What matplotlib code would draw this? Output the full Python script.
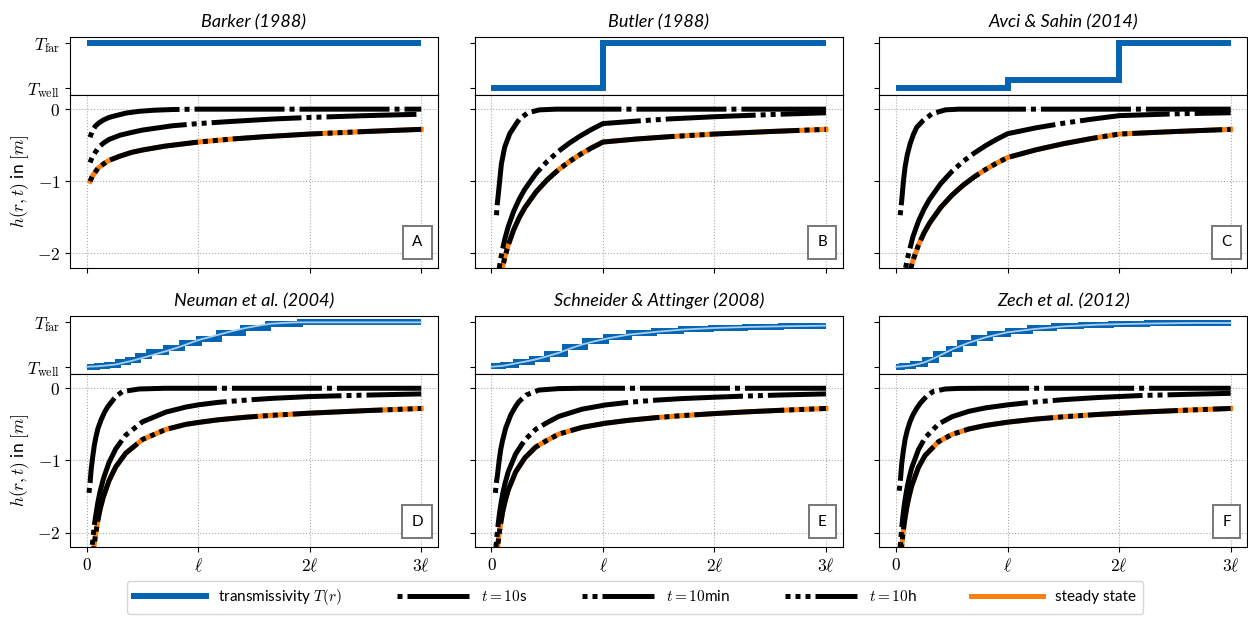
import matplotlib.pyplot as plt
from matplotlib.lines import Line2D

plt.rcParams['font.family'] = ['Lato', 'DejaVu Sans']
plt.rcParams['mathtext.fontset'] = 'cm'

# ---------------- texts ----------------
titles = ['Barker (1988)', 'Butler (1988)', 'Avci & Sahin (2014)',
          'Neuman et al. (2004)', 'Schneider & Attinger (2008)', 'Zech et al. (2012)']
letters = ['A', 'B', 'C', 'D', 'E', 'F']
x_ticks = [0, 1, 2, 3]
x_ticklabels = ['$0$', r'$\ell$', r'$2\ell$', r'$3\ell$']
h_ticks = [-2, -1, 0]
h_ticklabels = ['$-2$', '$-1$', '$0$']
T_ticks = [0, 1]
T_ticklabels = [r'$T_\mathrm{well}$', r'$T_\mathrm{far}$']

# ---------------- transmissivity (0 = T_well, 1 = T_far) ----------------
A_T_edges = [0, 3]
A_T_levels = [1]
B_T_edges = [0, 1, 3]
B_T_levels = [0, 1]
C_T_edges = [0, 1, 2, 3]
C_T_levels = [0, 0.18, 1]
D_T_edges = [0, 0.09, 0.18, 0.28, 0.37, 0.46, 0.56, 0.71, 0.85, 1.01, 1.19, 1.40, 1.63, 1.91, 3.0]
D_T_levels = [0, 0.02, 0.05, 0.1, 0.16, 0.24, 0.33, 0.43, 0.54, 0.63, 0.75, 0.87, 0.96, 1.0]
D_T_x = [0, 0.1, 0.26, 0.4, 0.5, 0.6, 0.71, 0.8, 0.89, 1.0, 1.18, 1.3, 1.42, 1.55, 1.66, 1.8, 1.9, 2.2, 3.0]
D_T_val = [0, 0.01, 0.05, 0.13, 0.2, 0.27, 0.35, 0.42, 0.5, 0.6, 0.72, 0.8, 0.87, 0.93, 0.97, 0.99, 1.0, 1.0, 1.0]
E_T_edges = [0, 0.1, 0.22, 0.36, 0.5, 0.66, 0.84, 1.03, 1.23, 1.46, 1.7, 1.97, 2.27, 2.6, 3.0]
E_T_levels = [0.01, 0.05, 0.105, 0.185, 0.29, 0.44, 0.58, 0.68, 0.755, 0.81, 0.855, 0.882, 0.903, 0.918]
E_T_x = [0, 0.1, 0.217, 0.3, 0.396, 0.5, 0.604, 0.7, 0.812, 0.92, 1.02, 1.23, 1.47, 1.71, 2.0, 2.3, 2.6, 3.0]
E_T_val = [0, 0.02, 0.075, 0.115, 0.164, 0.235, 0.313, 0.405, 0.5, 0.57, 0.627, 0.724, 0.784, 0.836, 0.873, 0.896, 0.91, 0.925]
F_T_edges = [0, 0.05, 0.155, 0.26, 0.36, 0.47, 0.57, 0.7, 0.84, 1.0, 1.2, 1.42, 1.66, 1.93, 2.25, 2.6, 3.0]
F_T_levels = [0, 0.015, 0.065, 0.16, 0.28, 0.41, 0.53, 0.64, 0.73, 0.81, 0.865, 0.915, 0.946, 0.965, 0.98, 0.985]
F_T_x = [0, 0.07, 0.14, 0.2, 0.26, 0.32, 0.38, 0.44, 0.5, 0.65, 0.8, 0.9, 1.0, 1.24, 1.51, 1.81, 2.19, 2.64, 3.0]
F_T_val = [0, 0.01, 0.03, 0.06, 0.104, 0.17, 0.24, 0.315, 0.39, 0.54, 0.66, 0.72, 0.776, 0.85, 0.91, 0.948, 0.97, 0.985, 0.985]

# ---------------- head h(r,t) ----------------
A_x_10s = [0.03, 0.05, 0.08, 0.11, 0.15, 0.2, 0.26, 0.35, 0.47, 0.6, 0.77, 1.0, 2.0, 3.0]
A_h_10s = [-0.39, -0.30, -0.23, -0.19, -0.15, -0.115, -0.09, -0.055, -0.03, -0.015, -0.005, 0, 0, 0]
A_x_10min = [0.03, 0.05, 0.08, 0.11, 0.15, 0.2, 0.3, 0.41, 0.5, 0.77, 1.0, 1.3, 1.69, 2.0, 2.5, 3.0]
A_h_10min = [-0.74, -0.66, -0.59, -0.525, -0.47, -0.42, -0.36, -0.32, -0.29, -0.23, -0.2, -0.17, -0.135, -0.115, -0.09, -0.07]
A_x_ss = [0.03, 0.05, 0.1, 0.15, 0.2, 0.3, 0.4, 0.5, 0.7, 1.0, 1.3, 1.6, 2.0, 2.5, 3.0]
A_h_ss = [-1.0, -0.93, -0.82, -0.76, -0.71, -0.65, -0.60, -0.566, -0.513, -0.456, -0.414, -0.381, -0.345, -0.31, -0.28]

B_x_10s = [0.045, 0.05, 0.068, 0.089, 0.119, 0.164, 0.223, 0.253, 0.327, 0.43, 0.58, 1.0, 2.0, 3.0]
B_h_10s = [-1.47, -1.35, -1.08, -0.76, -0.525, -0.34, -0.2, -0.134, -0.05, -0.01, 0, 0, 0, 0]
B_x_10min = [0.07, 0.08, 0.1, 0.12, 0.15, 0.2, 0.25, 0.3, 0.4, 0.5, 0.6, 0.7, 0.8, 0.9, 1.0, 1.3, 1.6, 2.0, 2.5, 3.0]
B_h_10min = [-2.205, -2.10, -1.936, -1.80, -1.63, -1.414, -1.245, -1.108, -0.891, -0.723, -0.585, -0.469, -0.368,
             -0.279, -0.2, -0.165, -0.135, -0.105, -0.075, -0.05]
B_x_ss = [0.09, 0.1, 0.12, 0.15, 0.2, 0.25, 0.3, 0.4, 0.5, 0.6, 0.7, 0.8, 0.9, 1.0, 1.3, 1.6, 2.0, 2.5, 3.0]
B_h_ss = [-2.27, -2.19, -2.055, -1.886, -1.67, -1.5, -1.364, -1.147, -0.979, -0.841, -0.725, -0.624, -0.535,
          -0.456, -0.414, -0.381, -0.345, -0.31, -0.28]

C_x_10s = [0.036, 0.05, 0.065, 0.08, 0.1, 0.125, 0.155, 0.185, 0.24, 0.32, 0.44, 0.56, 1.0, 2.0, 3.0]
C_h_10s = [-1.47, -1.26, -1.0, -0.8, -0.63, -0.48, -0.35, -0.25, -0.16, -0.065, -0.01, 0, 0, 0, 0]
C_x_10min = [0.085, 0.1, 0.15, 0.2, 0.25, 0.3, 0.4, 0.5, 0.6, 0.7, 0.8, 0.9, 1.0, 1.25, 1.5, 1.75, 2.0, 2.5, 3.0]
C_h_10min = [-2.2, -2.076, -1.77, -1.553, -1.385, -1.248, -1.031, -0.863, -0.725, -0.609, -0.508, -0.419,
             -0.34, -0.26, -0.195, -0.14, -0.09, -0.065, -0.05]
C_x_ss = [0.13, 0.15, 0.2, 0.25, 0.3, 0.4, 0.5, 0.6, 0.7, 0.8, 0.9, 1.0, 1.25, 1.5, 1.75, 2.0, 2.5, 3.0]
C_h_ss = [-2.21, -2.10, -1.883, -1.715, -1.578, -1.361, -1.193, -1.055, -0.939, -0.838, -0.749, -0.67,
          -0.565, -0.479, -0.407, -0.345, -0.31, -0.28]

D_x_10s = [0.02, 0.03, 0.04, 0.054, 0.068, 0.083, 0.1, 0.128, 0.16, 0.19, 0.26, 0.32, 0.47, 0.7, 1.0, 2.0, 3.0]
D_h_10s = [-1.45, -1.31, -1.12, -0.945, -0.79, -0.67, -0.56, -0.44, -0.33, -0.253, -0.115, -0.046, -0.01, 0, 0, 0, 0]
D_x_10min = [0.05, 0.06, 0.07, 0.08, 0.1, 0.12, 0.15, 0.2, 0.26, 0.35, 0.5, 0.71, 0.89, 1.0, 1.18, 1.42, 1.66, 2.0, 2.5, 3.0]
D_h_10min = [-2.17, -2.01, -1.88, -1.77, -1.58, -1.43, -1.25, -1.03, -0.84, -0.65, -0.465, -0.33, -0.26,
             -0.23, -0.195, -0.165, -0.14, -0.115, -0.095, -0.078]
D_x_ss = [0.06, 0.07, 0.08, 0.1, 0.12, 0.15, 0.2, 0.26, 0.35, 0.5, 0.71, 0.89, 1.0, 1.18, 1.42, 1.66, 2.0, 2.5, 3.0]
D_h_ss = [-2.26, -2.13, -2.02, -1.83, -1.675, -1.50, -1.28, -1.09, -0.90, -0.71, -0.57, -0.50, -0.474,
          -0.437, -0.402, -0.375, -0.345, -0.31, -0.28]

E_x_10s = [0.035, 0.045, 0.054, 0.07, 0.083, 0.1, 0.128, 0.173, 0.217, 0.247, 0.31, 0.425, 0.6, 0.8, 1.0, 2.0, 3.0]
E_h_10s = [-1.45, -1.3, -1.2, -0.99, -0.85, -0.72, -0.55, -0.37, -0.25, -0.185, -0.095, -0.025, -0.005, 0, 0, 0, 0]
E_x_10min = [0.04, 0.05, 0.06, 0.07, 0.08, 0.1, 0.12, 0.15, 0.217, 0.3, 0.396, 0.5, 0.604, 0.812, 1.02,
             1.23, 1.47, 1.71, 2.0, 2.3, 2.6, 3.0]
E_h_10min = [-2.2, -2.04, -1.885, -1.757, -1.65, -1.468, -1.33, -1.16, -0.91, -0.715, -0.57, -0.475, -0.39,
             -0.29, -0.232, -0.195, -0.165, -0.143, -0.124, -0.107, -0.093, -0.078]
E_x_ss = [0.05, 0.06, 0.07, 0.08, 0.1, 0.12, 0.15, 0.217, 0.3, 0.396, 0.5, 0.604, 0.812, 1.02, 1.23,
          1.47, 1.71, 2.0, 2.3, 2.6, 3.0]
E_h_ss = [-2.29, -2.135, -2.007, -1.90, -1.718, -1.58, -1.411, -1.16, -0.964, -0.816, -0.72, -0.635, -0.542,
          -0.485, -0.444, -0.408, -0.379, -0.351, -0.326, -0.305, -0.28]

F_x_10s = [0.027, 0.036, 0.05, 0.065, 0.08, 0.1, 0.125, 0.15, 0.185, 0.22, 0.27, 0.33, 0.44, 0.56, 0.8, 1.0, 2.0, 3.0]
F_h_10s = [-1.42, -1.31, -1.04, -0.86, -0.71, -0.58, -0.46, -0.37, -0.276, -0.2, -0.115, -0.046, -0.01, -0.002, 0, 0, 0, 0]
F_x_10min = [0.035, 0.04, 0.05, 0.06, 0.07, 0.08, 0.1, 0.12, 0.14, 0.2, 0.26, 0.38, 0.5, 0.65, 0.8, 1.0,
             1.24, 1.51, 1.81, 2.19, 2.64, 3.0]
F_h_10min = [-2.2, -2.12, -1.93, -1.78, -1.65, -1.54, -1.36, -1.22, -1.10, -0.85, -0.685, -0.495, -0.395,
             -0.32, -0.272, -0.23, -0.19, -0.157, -0.128, -0.101, -0.083, -0.07]
F_x_ss = [0.04, 0.05, 0.06, 0.07, 0.08, 0.1, 0.12, 0.14, 0.2, 0.26, 0.38, 0.5, 0.65, 0.8, 1.0, 1.24, 1.51,
          1.81, 2.19, 2.64, 3.0]
F_h_ss = [-2.37, -2.18, -2.03, -1.90, -1.79, -1.61, -1.47, -1.35, -1.095, -0.93, -0.74, -0.64, -0.565,
          -0.516, -0.47, -0.429, -0.394, -0.363, -0.331, -0.301, -0.28]

panels = [
    (A_T_edges, A_T_levels, None, None, A_x_10s, A_h_10s, A_x_10min, A_h_10min, A_x_ss, A_h_ss),
    (B_T_edges, B_T_levels, None, None, B_x_10s, B_h_10s, B_x_10min, B_h_10min, B_x_ss, B_h_ss),
    (C_T_edges, C_T_levels, None, None, C_x_10s, C_h_10s, C_x_10min, C_h_10min, C_x_ss, C_h_ss),
    (D_T_edges, D_T_levels, D_T_x, D_T_val, D_x_10s, D_h_10s, D_x_10min, D_h_10min, D_x_ss, D_h_ss),
    (E_T_edges, E_T_levels, E_T_x, E_T_val, E_x_10s, E_h_10s, E_x_10min, E_h_10min, E_x_ss, E_h_ss),
    (F_T_edges, F_T_levels, F_T_x, F_T_val, F_x_10s, F_h_10s, F_x_10min, F_h_10min, F_x_ss, F_h_ss),
]

# ---------------- styles ----------------
blue = '#0464b2'
light_blue = '#a9cff0'
orange = '#ff7f0e'
lw = 3.6
ls_10s = (0, (1, 1, 18, 1))
ls_10min = (0, (1, 1, 1, 1, 18, 1))
ls_10h = (0, (1, 1, 1, 1, 1, 1, 18, 1))

fig = plt.figure(figsize=(12.48, 6.22), dpi=100)
outer = fig.add_gridspec(2, 3, left=0.0561, right=0.9995, top=0.9405, bottom=0.1206,
                         wspace=0.1, hspace=0.209)

for i, p in enumerate(panels):
    T_edges, T_levels, T_x, T_val, x10s, h10s, x10m, h10m, xss, hss = p
    row, col = divmod(i, 3)
    inner = outer[row, col].subgridspec(2, 1, height_ratios=[1, 3], hspace=0)
    axT = fig.add_subplot(inner[0])
    axh = fig.add_subplot(inner[1])

    # transmissivity
    axT.stairs(T_levels, T_edges, baseline=None, color=blue, lw=4.3)
    if T_x is not None:
        axT.plot(T_x, T_val, color=light_blue, lw=1.3)
    axT.set_xlim(-0.15, 3.15)
    axT.set_ylim(-0.16, 1.14)
    axT.set_yticks(T_ticks)
    axT.set_yticklabels(T_ticklabels if col == 0 else [], fontsize=12.5)
    axT.tick_params(bottom=False, labelbottom=False)
    axT.set_title(titles[i], fontsize=13, style='italic', pad=7)

    # head
    axh.plot(xss, hss, color=orange, lw=lw, zorder=2)
    axh.plot(x10s, h10s, color='black', lw=lw, ls=ls_10s, zorder=3)
    axh.plot(x10m, h10m, color='black', lw=lw, ls=ls_10min, zorder=3)
    axh.plot(xss, hss, color='black', lw=lw, ls=ls_10h, zorder=3)
    axh.set_xlim(-0.15, 3.15)
    axh.set_ylim(-2.2, 0.2)
    axh.set_xticks(x_ticks)
    axh.set_xticklabels(x_ticklabels if row == 1 else [], fontsize=12.5)
    axh.set_yticks(h_ticks)
    axh.set_yticklabels(h_ticklabels if col == 0 else [], fontsize=12.5)
    axh.grid(True, ls=':', color='#aaaaaa', lw=0.8)
    if col == 0:
        axh.set_ylabel('$h(r,t)$ in $[m]$', fontsize=12.5)
    axh.text(0.944, 0.147, letters[i], transform=axh.transAxes, ha='center', va='center',
             fontsize=11, bbox=dict(boxstyle='square,pad=0.6', fc='white', ec='#777777', lw=1.4),
             zorder=5)

handles = [
    Line2D([], [], color=blue, lw=4.3),
    Line2D([], [], color='black', lw=lw, ls=ls_10s),
    Line2D([], [], color='black', lw=lw, ls=ls_10min),
    Line2D([], [], color='black', lw=lw, ls=ls_10h),
    Line2D([], [], color=orange, lw=lw),
]
labels = ['transmissivity $T(r)$', '$t = 10$s', '$t = 10$min', '$t = 10$h', 'steady state']
fig.legend(handles, labels, loc='lower center', bbox_to_anchor=(0.509, 0.0), ncol=5,
           fontsize=11, handlelength=4.7, columnspacing=3.6, borderpad=0.45)

fig.savefig('out.png', dpi=100)
